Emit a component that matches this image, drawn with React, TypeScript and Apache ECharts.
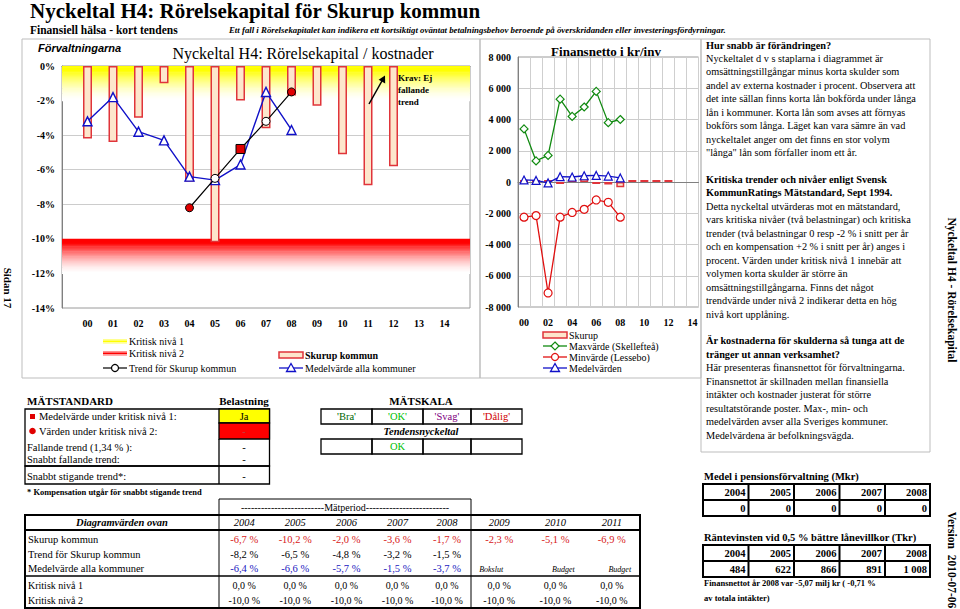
import React, { useEffect, useRef } from "react";
import * as echarts from "echarts";

const years = ["00","01","02","03","04","05","06","07","08","09","10","11","12","13","14"];
const skurupPct = [-4.2,-4.4,-3.0,-1.0,-6.7,-10.2,-2.0,-3.6,-1.7,-2.3,-5.1,-6.9,-5.8,null,null];
const medelPct = [-3.2,-1.8,-3.8,-4.3,-6.4,-6.6,-5.7,-1.5,-3.7,null,null,null,null,null,null];
const trendPct = [null,null,null,null,-8.2,-6.5,-4.8,-3.2,-1.5,null,null,null,null,null,null];
const trendMarker = ["","","","","redCircle","whiteCircle","redSquare","whiteCircle","redCircle","","","","","",""];
// critical levels: [level, fade depth below it]
const kritiskaNivaer = [[0, 2], [-10, 2]];

const finSkurup = [60,40,0,-30,180,250,-60,-160,-340,0,0,0,0,null,null];
const finMax = [3400,1350,1700,5300,4200,4800,5800,3800,4000,null,null,null,null,null,null];
const finMin = [-2250,-2150,-7100,-2250,-1950,-1750,-1150,-1300,-2250,null,null,null,null,null,null];
const finMean = [130,100,-60,340,320,400,420,380,260,null,null,null,null,null,null];

const tableYears = ["2004","2005","2006","2007","2008","2009","2010","2011"];
const tableSkurup = [-6.7,-10.2,-2.0,-3.6,-1.7,-2.3,-5.1,-6.9];
const tableTrend = [-8.2,-6.5,-4.8,-3.2,-1.5];
const tableMedel = [-6.4,-6.6,-5.7,-1.5,-3.7];
const tableKritisk1 = [0,0,0,0,0,0,0,0];
const tableKritisk2 = [-10,-10,-10,-10,-10,-10,-10,-10];
const budgetNotes = ["Bokslut","Budget","Budget"];
const pensionYears = ["2004","2005","2006","2007","2008"];
const pensionValues = [0,0,0,0,0];
const ranteYears = ["2004","2005","2006","2007","2008"];
const ranteValues = [484,622,866,891,1008];

const panelText: [string, boolean][] = [
  ["Hur snabb är förändringen?", true],
  ["Nyckeltalet d v s staplarna i diagrammet är", false],
  ["omsättningstillgångar minus korta skulder som", false],
  ["andel av externa kostnader i procent. Observera att", false],
  ["det inte sällan finns korta lån bokförda under långa", false],
  ["lån i kommuner. Korta lån som avses att förnyas", false],
  ["bokförs som långa. Läget kan vara sämre än vad", false],
  ["nyckeltalet anger om det finns en stor volym", false],
  ["\"långa\" lån som förfaller inom ett år.", false],
  ["", false],
  ["Kritiska trender och nivåer enligt Svensk", true],
  ["KommunRatings Mätstandard, Sept 1994.", true],
  ["Detta nyckeltal utvärderas mot en mätstandard,", false],
  ["vars kritiska nivåer (två belastningar) och kritiska", false],
  ["trender (två belastningar 0 resp -2 % i snitt per år", false],
  ["och en kompensation +2 % i snitt per år) anges i", false],
  ["procent. Värden under kritisk nivå 1 innebär att", false],
  ["volymen korta skulder är större än", false],
  ["omsättningstillgångarna. Finns det något", false],
  ["trendvärde under nivå 2 indikerar detta en hög", false],
  ["nivå kort upplåning.", false],
  ["", false],
  ["Är kostnaderna för skulderna så tunga att de", true],
  ["tränger ut annan verksamhet?", true],
  ["Här presenteras finansnettot för förvaltningarna.", false],
  ["Finansnettot är skillnaden mellan finansiella", false],
  ["intäkter och kostnader justerat för större", false],
  ["resultatstörande poster. Max-, min- och", false],
  ["medelvärden avser alla Sveriges kommuner.", false],
  ["Medelvärdena är befolkningsvägda.", false],
];

const SERIF = '"Liberation Serif", "Times New Roman", Times, serif';
const SANS = '"Liberation Sans", Arial, sans-serif';
const BAR_FILL = "#fde6cc";
const BAR_EDGE = "#e0343a";
const BLUE = "#1010c8";
const GREEN = "#108a10";
const RED = "#e01010";

const fmtPct = (v: number) => v.toFixed(1).replace(".", ",") + " %";
const fmtThousands = (v: number) => {
  const s = String(Math.abs(v)).replace(/\B(?=(\d{3})+(?!\d))/g, " ");
  return (v < 0 ? "-" : "") + s;
};

type TOpt = { size?: number; bold?: boolean; italic?: boolean; color?: string; align?: string; family?: string; rotation?: number };
function T(text: string, x: number, y: number, o: TOpt = {}) {
  return {
    type: "text", x, y, silent: true, z: 100, rotation: o.rotation || 0,
    style: {
      text, fontFamily: o.family || SERIF, fontSize: o.size || 10.5,
      fontWeight: o.bold ? "bold" : "normal", fontStyle: o.italic ? "italic" : "normal",
      fill: o.color || "#000", align: o.align || "left", verticalAlign: "middle",
    },
  };
}
function R(x: number, y: number, w: number, h: number, fill: any, stroke?: string, lw?: number) {
  return { type: "rect", silent: true, z: 90, shape: { x, y, width: w, height: h }, style: { fill: fill || "none", stroke: stroke || "none", lineWidth: lw || 1 } };
}
function L(x1: number, y1: number, x2: number, y2: number, stroke = "#000", lw = 1) {
  return { type: "line", silent: true, z: 95, shape: { x1, y1, x2, y2 }, style: { stroke, lineWidth: lw } };
}
function tri(cx: number, cy: number, color: string) {
  return { type: "polygon", silent: true, z: 97, shape: { points: [[cx, cy - 4.5], [cx - 4.5, cy + 3.5], [cx + 4.5, cy + 3.5]] }, style: { fill: "#fff", stroke: color, lineWidth: 1.3 } };
}
function diamond(cx: number, cy: number, color: string) {
  return { type: "polygon", silent: true, z: 97, shape: { points: [[cx, cy - 4], [cx + 4, cy], [cx, cy + 4], [cx - 4, cy]] }, style: { fill: "#fff", stroke: color, lineWidth: 1.2 } };
}
function circ(cx: number, cy: number, r: number, fill: string, stroke: string) {
  return { type: "circle", silent: true, z: 97, shape: { cx, cy, r }, style: { fill, stroke, lineWidth: 1.2 } };
}
// opaque mix of an rgb colour with white; intensity 1 = full colour
function mixWhite(rgb: number[], intensity: number) {
  const c = rgb.map((v) => Math.round(255 - (255 - v) * intensity));
  return "#" + c.map((v) => v.toString(16).padStart(2, "0")).join("");
}
function fadeIntensity(t: number) {
  if (t < 0.12) return 1;
  const u = (t - 0.12) / 0.88;
  return Math.pow(Math.max(0, 1 - u), 1.6);
}

function buildGraphics() {
  const g: any[] = [];
  g.push(T("Nyckeltal H4: Rörelsekapital för Skurup kommun", 30, 11, { size: 21, bold: true }));
  g.push(T("Finansiell hälsa - kort tendens", 30, 30, { size: 11.5, bold: true }));
  g.push(T("Ett fall i Rörelsekapitalet kan indikera ett kortsiktigt oväntat betalningsbehov beroende på överskridanden eller investeringsfördyrningar.", 229, 30, { size: 8.8, bold: true, italic: true }));
  g.push(R(22, 39, 458, 339, "none", "#bdbdbd", 1));
  g.push(R(480, 39, 221, 339, "none", "#bdbdbd", 1));
  g.push(R(701, 39, 229, 413, "none", "#bdbdbd", 1));
  g.push(T("Sidan 17", 8, 288, { size: 11, bold: true, align: "center", rotation: -Math.PI / 2 }));
  g.push(T("Nyckeltal H4 - Rörelsekapital", 952, 290, { size: 11.5, bold: true, align: "center", rotation: -Math.PI / 2 }));
  g.push(T("Version  2010-07-06", 952, 560, { size: 11.5, bold: true, align: "center", rotation: -Math.PI / 2 }));
  g.push(T("Förvaltningarna", 38, 48, { size: 11, bold: true, italic: true, family: SANS }));
  g.push(T("Nyckeltal H4: Rörelsekapital / kostnader", 303, 53, { size: 16, align: "center" }));
  g.push(T("Krav: Ej", 398, 78, { size: 9, bold: true }));
  g.push(T("fallande", 398, 90, { size: 9, bold: true }));
  g.push(T("trend", 398, 102, { size: 9, bold: true }));
  g.push(L(369, 104, 382.5, 80, "#000", 1.5));
  g.push({ type: "polygon", silent: true, z: 96, shape: { points: [[385, 75.5], [385.2, 83.4], [378.6, 79.8]] }, style: { fill: "#000" } });
  // legend swatches
  g.push(R(103, 339, 24, 1.5, "#ffff90"));
  g.push(R(103, 340.5, 24, 2, "#ffff00"));
  g.push(R(103, 342.5, 24, 1.5, "#ffffb0"));
  g.push(T("Kritisk nivå 1", 129, 341, { size: 10 }));
  g.push(R(103, 351, 24, 1.5, "#ff9090"));
  g.push(R(103, 352.5, 24, 2, "#ff0000"));
  g.push(R(103, 354.5, 24, 1.5, "#ffb0b0"));
  g.push(T("Kritisk nivå 2", 129, 353, { size: 10 }));
  g.push(L(103, 368, 127, 368, "#000", 1.2));
  g.push(circ(115, 368, 3.5, "#fff", "#000"));
  g.push(T("Trend för Skurup kommun", 129, 368, { size: 10 }));
  g.push(R(279, 352, 24, 6, BAR_FILL, BAR_EDGE, 1.5));
  g.push(T("Skurup kommun", 305, 355, { size: 10, bold: true }));
  g.push(L(279, 368, 303, 368, BLUE, 1.3));
  g.push(tri(291, 368, BLUE));
  g.push(T("Medelvärde alla kommuner", 305, 368, { size: 10 }));
  g.push(T("Finansnetto i kr/inv", 606, 51, { size: 13, bold: true, align: "center" }));
  g.push(R(543, 332, 24, 6, BAR_FILL, BAR_EDGE, 1.5));
  g.push(T("Skurup", 569, 335, { size: 10 }));
  g.push(L(543, 346, 567, 346, GREEN, 1.3));
  g.push(diamond(555, 346, GREEN));
  g.push(T("Maxvärde (Skellefteå)", 569, 346, { size: 10 }));
  g.push(L(543, 357, 567, 357, RED, 1.3));
  g.push(circ(555, 357, 3.5, "#fff", RED));
  g.push(T("Minvärde (Lessebo)", 569, 357, { size: 10 }));
  g.push(L(543, 368, 567, 368, BLUE, 1.3));
  g.push(tri(555, 368, BLUE));
  g.push(T("Medelvärden", 569, 368, { size: 10 }));
  panelText.forEach(([txt, b], i) => {
    if (txt) g.push(T(txt, 706, 45 + 13.45 * i, { size: 10.3, bold: b }));
  });
  // MÄTSTANDARD
  g.push(T("MÄTSTANDARD", 27, 401, { size: 11, bold: true }));
  g.push(T("Belastning", 244, 401, { size: 11, bold: true, align: "center" }));
  g.push(R(25, 409, 244.5, 57, "none", "#000", 1.3));
  g.push(R(219, 409, 50.5, 14, "#ffff00", "#000", 1.3));
  g.push(R(219, 423, 50.5, 16, "#ff0000", "#000", 1.3));
  g.push(L(219, 439, 219, 466, "#000", 1.3));
  g.push(R(25, 466, 244.5, 18, "none", "#000", 1.3));
  g.push(L(219, 466, 219, 484, "#000", 1.3));
  g.push(R(30, 414, 5, 5, "#e00000"));
  g.push(T("Medelvärde under kritisk nivå 1:", 39, 416.5, { size: 10.5 }));
  g.push(circ(32.5, 431, 2.7, "#e00000", "#e00000"));
  g.push(T("Värden under kritisk nivå 2:", 39, 431, { size: 10.5 }));
  g.push(T("Fallande trend (1,34 % ):", 27, 447, { size: 10.5 }));
  g.push(T("Snabbt fallande trend:", 27, 459, { size: 10.5 }));
  g.push(T("Snabbt stigande trend*:", 27, 476, { size: 10.5 }));
  g.push(T("Ja", 244, 416.5, { size: 10.5, align: "center" }));
  g.push(T("-", 244, 431, { size: 10.5, align: "center", color: "#c04040" }));
  g.push(T("-", 244, 447, { size: 10.5, align: "center" }));
  g.push(T("-", 244, 459, { size: 10.5, align: "center" }));
  g.push(T("-", 244, 476, { size: 10.5, align: "center" }));
  g.push(T("* Kompensation utgår för snabbt stigande trend", 27, 492, { size: 8.5, bold: true }));
  // MÄTSKALA
  const scaleEdges = [321, 372, 423, 471, 522];
  const scaleLabels = ["'Bra'", "'OK'", "'Svag'", "'Dålig'"];
  const scaleColors = ["#006400", "#00c000", "#800080", "#d00000"];
  g.push(T("MÄTSKALA", 421, 401, { size: 11, bold: true, align: "center" }));
  g.push(T("Tendensnyckeltal", 421, 431, { size: 10.5, bold: true, italic: true, align: "center" }));
  for (let i = 0; i < 4; i++) {
    const x0 = scaleEdges[i], x1 = scaleEdges[i + 1];
    g.push(R(x0, 409, x1 - x0, 15, "none", "#000", 1.3));
    g.push(T(scaleLabels[i], (x0 + x1) / 2, 416.5, { size: 10.5, align: "center", color: scaleColors[i] }));
    g.push(R(x0, 439, x1 - x0, 15, "none", "#000", 1.3));
  }
  g.push(T("OK", (scaleEdges[1] + scaleEdges[2]) / 2, 446.5, { size: 10.5, align: "center", color: "#00c000" }));
  // bottom table
  const colEdges = [219, 269.5, 321, 372, 423, 471, 527.3, 583.6, 640];
  const cx = (i: number) => (colEdges[i] + colEdges[i + 1]) / 2;
  g.push(L(219, 499, 471, 499, "#000", 1));
  g.push(T("-------------------------Mätperiod-------------------------", 345, 507, { size: 10, align: "center" }));
  g.push(R(25, 515, 615, 93, "none", "#000", 2));
  g.push(L(25, 530, 640, 530, "#000", 2));
  g.push(L(25, 576, 640, 576, "#000", 1.5));
  g.push(L(219, 499, 219, 608, "#000", 1));
  g.push(L(471, 499, 471, 608, "#000", 1));
  g.push(T("Diagramvärden ovan", 122, 522.5, { size: 10.5, bold: true, italic: true, align: "center" }));
  tableYears.forEach((y, i) => g.push(T(y, cx(i), 522.5, { size: 10.5, italic: true, align: "center" })));
  g.push(T("Skurup kommun", 28, 539, { size: 10.5 }));
  g.push(T("Trend för Skurup kommun", 28, 554, { size: 10.5 }));
  g.push(T("Medelvärde alla kommuner", 28, 568, { size: 10.5 }));
  g.push(T("Kritisk nivå 1", 28, 585, { size: 10 }));
  g.push(T("Kritisk nivå 2", 28, 600, { size: 10 }));
  tableSkurup.forEach((v, i) => g.push(T(fmtPct(v), cx(i), 539, { size: 10.5, align: "center", color: "#d82020" })));
  tableTrend.forEach((v, i) => g.push(T(fmtPct(v), cx(i), 554, { size: 10.5, align: "center" })));
  tableMedel.forEach((v, i) => g.push(T(fmtPct(v), cx(i), 568, { size: 10.5, align: "center", color: "#2020c0" })));
  budgetNotes.forEach((t, i) => g.push(T(t, cx(i + 5) + (i === 0 ? -8 : 8), 569, { size: 8, italic: true, align: "center" })));
  tableKritisk1.forEach((v, i) => g.push(T(fmtPct(v), cx(i), 585, { size: 10, align: "center" })));
  tableKritisk2.forEach((v, i) => g.push(T(fmtPct(v), cx(i), 600, { size: 10, align: "center" })));
  // right bottom tables
  const rEdges = [703, 748.5, 794, 839.5, 885, 930];
  g.push(T("Medel i pensionsförvaltning (Mkr)", 704, 476, { size: 10.5, bold: true }));
  g.push(R(703, 484, 227, 32, "none", "#000", 2));
  g.push(L(703, 500, 930, 500, "#000", 2));
  for (let i = 1; i < 5; i++) g.push(L(rEdges[i], 484, rEdges[i], 516, "#000", 2));
  pensionYears.forEach((y, i) => g.push(T(y, rEdges[i + 1] - 3, 492, { size: 10.5, bold: true, align: "right" })));
  pensionValues.forEach((v, i) => g.push(T(fmtThousands(v), rEdges[i + 1] - 3, 508, { size: 10.5, bold: true, align: "right" })));
  g.push(T("Räntevinsten vid 0,5 % bättre lånevillkor (Tkr)", 704, 537, { size: 10.5, bold: true }));
  g.push(R(703, 545, 227, 32, "none", "#000", 2));
  g.push(L(703, 561, 930, 561, "#000", 2));
  for (let i = 1; i < 5; i++) g.push(L(rEdges[i], 545, rEdges[i], 577, "#000", 2));
  ranteYears.forEach((y, i) => g.push(T(y, rEdges[i + 1] - 3, 553, { size: 10.5, bold: true, align: "right" })));
  ranteValues.forEach((v, i) => g.push(T(fmtThousands(v), rEdges[i + 1] - 3, 569, { size: 10.5, bold: true, align: "right" })));
  g.push(T("Finansnettot år 2008 var -5,07 milj kr ( -0,71 %", 704, 583, { size: 8.5, bold: true }));
  g.push(T("av totala intäkter)", 704, 598, { size: 8.5, bold: true }));
  return g;
}

function buildOption() {
  const axisLabelStyle = { fontFamily: SERIF, fontWeight: "bold" as const, fontSize: 10, color: "#000" };
  const leftCats = ["", ...years, ""];
  const pad = (arr: any[]) => [null, ...arr, null];
  const trendData = pad(trendPct.map((v, i) => {
    if (v === null) return null;
    const m = trendMarker[i];
    const red = m === "redCircle" || m === "redSquare";
    return {
      value: v,
      symbol: m === "redSquare" ? "rect" : "circle",
      symbolSize: m === "redSquare" ? 9 : 8,
      itemStyle: { color: red ? "#e00000" : "#fff", borderColor: "#000", borderWidth: 1 },
    };
  }));
  const bandRgb = [[255, 255, 0], [255, 0, 0]];
  const STEPS = 28;
  return {
    animation: false,
    backgroundColor: "#ffffff",
    grid: [
      { left: 62, top: 66, width: 408, height: 242, show: true, borderColor: "#9a9a9a", borderWidth: 1 },
      { left: 518, top: 57, width: 180.5, height: 250, show: true, borderColor: "#9a9a9a", borderWidth: 1 },
    ],
    xAxis: [
      {
        gridIndex: 0, type: "category", data: leftCats, boundaryGap: false,
        axisLine: { lineStyle: { color: "#808080" } }, axisTick: { show: false },
        axisLabel: { ...axisLabelStyle, interval: 0, margin: 10 }, splitLine: { show: false },
      },
      {
        gridIndex: 1, type: "category", data: years, boundaryGap: true,
        axisLine: { lineStyle: { color: "#808080" } }, axisTick: { show: false },
        axisLabel: { ...axisLabelStyle, interval: 1, margin: 10 },
        splitLine: { show: true, interval: 0, lineStyle: { color: "#cfcfcf" } },
      },
    ],
    yAxis: [
      {
        gridIndex: 0, type: "value", min: -14, max: 0, interval: 2,
        axisLine: { show: true, lineStyle: { color: "#808080" } }, axisTick: { show: false },
        axisLabel: { ...axisLabelStyle, margin: 7, formatter: (v: number) => v + "%" },
        splitLine: { lineStyle: { color: "#cccccc" } },
      },
      {
        gridIndex: 1, type: "value", min: -8000, max: 8000, interval: 2000,
        axisLine: { show: true, lineStyle: { color: "#808080" } }, axisTick: { show: false },
        axisLabel: { ...axisLabelStyle, margin: 7, formatter: (v: number) => fmtThousands(v) },
        splitLine: { lineStyle: { color: "#cccccc" } },
      },
    ],
    series: [
      {
        type: "custom", xAxisIndex: 0, yAxisIndex: 0, z: 1, silent: true,
        encode: { x: 2, y: [0, 1] },
        data: kritiskaNivaer.map(([lvl, depth], i) => [lvl, lvl - depth, i]),
        renderItem: (params: any, api: any) => {
          const cs = params.coordSys;
          const top = api.coord([0, api.value(0)])[1];
          const bot = api.coord([0, api.value(1)])[1];
          const rgb = bandRgb[api.value(2)] || bandRgb[0];
          const h = (bot - top) / STEPS;
          const children = [];
          for (let k = 0; k < STEPS; k++) {
            const t = (k + 0.5) / STEPS;
            children.push({
              type: "rect",
              shape: { x: cs.x, y: top + k * h, width: cs.width, height: h + 0.6 },
              style: { fill: mixWhite(rgb, fadeIntensity(t)), stroke: null },
            });
          }
          return { type: "group", children };
        },
      },
      {
        name: "Skurup kommun", type: "bar", xAxisIndex: 0, yAxisIndex: 0, z: 3, barWidth: 9,
        data: pad(skurupPct), itemStyle: { color: BAR_FILL, borderColor: BAR_EDGE, borderWidth: 1.5 },
      },
      {
        name: "Medelvärde alla kommuner", type: "line", xAxisIndex: 0, yAxisIndex: 0, z: 4,
        data: pad(medelPct), symbol: "triangle", symbolSize: 9, connectNulls: false,
        lineStyle: { color: BLUE, width: 1.4 }, itemStyle: { color: "#fff", borderColor: BLUE, borderWidth: 1.4 },
      },
      {
        name: "Trend för Skurup kommun", type: "line", xAxisIndex: 0, yAxisIndex: 0, z: 5,
        data: trendData, lineStyle: { color: "#000", width: 1.2 },
      },
      {
        name: "Skurup", type: "bar", xAxisIndex: 1, yAxisIndex: 1, z: 3, barWidth: 8, barMinHeight: 2,
        data: finSkurup, itemStyle: { color: BAR_FILL, borderColor: BAR_EDGE, borderWidth: 1.5 },
      },
      {
        name: "Maxvärde (Skellefteå)", type: "line", xAxisIndex: 1, yAxisIndex: 1, z: 4, data: finMax,
        symbol: "diamond", symbolSize: 8, lineStyle: { color: GREEN, width: 1.3 },
        itemStyle: { color: "#fff", borderColor: GREEN, borderWidth: 1.2 },
      },
      {
        name: "Minvärde (Lessebo)", type: "line", xAxisIndex: 1, yAxisIndex: 1, z: 4, data: finMin,
        symbol: "circle", symbolSize: 8, lineStyle: { color: RED, width: 1.3 },
        itemStyle: { color: "#fff", borderColor: RED, borderWidth: 1.2 },
      },
      {
        name: "Medelvärden", type: "line", xAxisIndex: 1, yAxisIndex: 1, z: 5, data: finMean,
        symbol: "triangle", symbolSize: 8, lineStyle: { color: BLUE, width: 1.3 },
        itemStyle: { color: "#fff", borderColor: BLUE, borderWidth: 1.2 },
      },
    ],
    graphic: buildGraphics(),
  };
}

export default function App() {
  const ref = useRef<HTMLDivElement>(null);
  useEffect(() => {
    document.body.style.margin = "0";
    if (!ref.current) return;
    const chart = echarts.init(ref.current, undefined, { renderer: "svg" });
    chart.setOption(buildOption() as any);
    return () => chart.dispose();
  }, []);
  return <div ref={ref} style={{ position: "absolute", left: 0, top: 0, width: 960, height: 609 }} />;
}
